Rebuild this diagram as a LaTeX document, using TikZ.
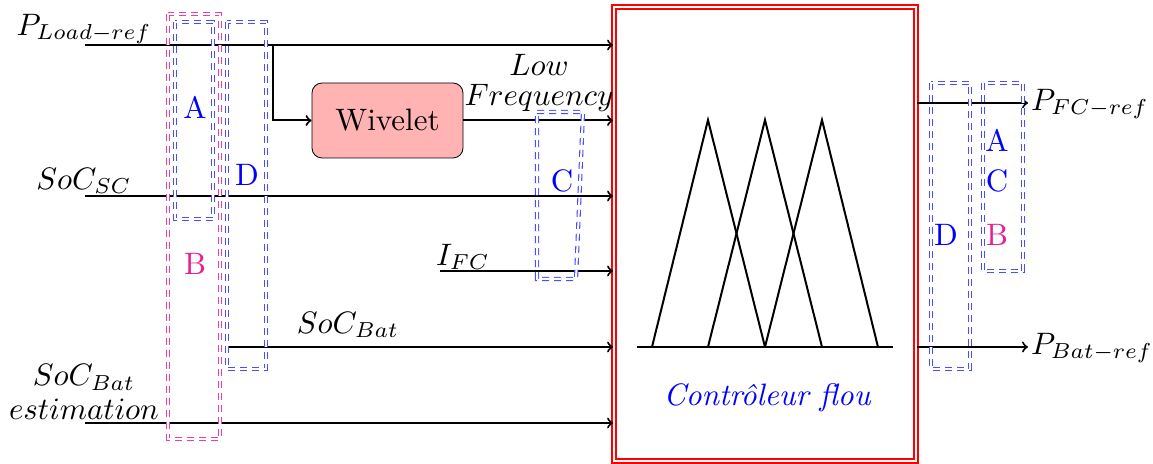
\documentclass[tikz,border=0pt]{standalone}
\definecolor{pinkc}{RGB}{232,30,145}
\definecolor{wivfill}{RGB}{255,179,179}
\begin{document}
\begin{tikzpicture}[x=0.5pt,y=-0.5pt,
  font=\fontsize{10}{12}\selectfont,
  txt/.style={scale=1.55},
  sig/.style={line width=1pt,->},
  wire/.style={line width=1pt},
  dbox/.style={draw=blue!70, double, dash pattern=on 3.5pt off 2.5pt, line width=0.55pt, double distance=1pt},
  pbox/.style={dbox, draw=pinkc!85},
  blab/.style={txt, text=blue},
  plab/.style={txt, text=pinkc},
  fz/.style={line width=1pt}]
\useasboundingbox (0,0) rectangle (1153,464);
% controller
\node[draw=red, double, line width=0.9pt, double distance=0.8pt, inner sep=0pt,
  minimum width=151pt, minimum height=227pt] (ctrl) at (765,234) {};
\node[txt, text=blue, font=\fontsize{10}{12}\selectfont\itshape] (ctrlt) at (767,398) {Contr\^oleur flou};
% fuzzy sets
\draw[fz] (637,347) -- (893,347);
\draw[fz] (652,347) -- (708,120) -- (765,347);
\draw[fz] (708,347) -- (765,120) -- (822,347);
\draw[fz] (765,347) -- (822,120) -- (878,347);
% wivelet
\node[draw, fill=wivfill, rounded corners=5pt, minimum width=75.5pt, minimum height=37.5pt, inner sep=0pt] (wiv) at (387.5,120.5) {\scalebox{1.55}{Wivelet}};
% inputs
\coordinate (sPL) at (85,45);
\coordinate (br) at (273,45);
\coordinate (sSC) at (85,196);
\coordinate (sIFC) at (440,271);
\coordinate (sBat) at (228,347);
\coordinate (sEst) at (85,423);
\draw[sig] (sPL) -- (sPL -| ctrl.west);
\draw[sig] (br) |- (wiv.west);
\draw[sig] (wiv.east) -- (wiv.east -| ctrl.west);
\draw[sig] (sSC) -- (sSC -| ctrl.west);
\draw[sig] (sIFC) -- (sIFC -| ctrl.west);
\draw[sig] (sBat) -- (sBat -| ctrl.west);
\draw[sig] (sEst) -- (sEst -| ctrl.west);
% outputs
\coordinate (oFC) at (1028,103);
\coordinate (oBat) at (1028,347);
\draw[sig] (ctrl.east |- oFC) -- (oFC);
\draw[sig] (ctrl.east |- oBat) -- (oBat);
% labels
\node[txt] (lPL) at (84,29) {$P_{Load-ref}$};
\node[txt] (lSC) at (84,181) {$SoC_{SC}$};
\node[txt, align=center, inner sep=0pt] (lEst) at (84,392) {$SoC_{Bat}$\\[-1pt]$estimation$};
\node[txt] (lIFC) at (463,257) {$I_{FC}$};
\node[txt] (lBat) at (348,325) {$SoC_{Bat}$};
\node[txt, inner sep=0pt, anchor=base] (lLow) at (539,76) {$Low$};
\node[txt, inner sep=0pt, anchor=base] (lFreq) at (539,106) {$Frequency$};
\node[txt] (lFC) at (1090,104) {$P_{FC-ref}$};
\node[txt] (lBr) at (1092,348) {$P_{Bat-ref}$};
% dashed groups
\draw[pbox] (168,14) rectangle (220,439);
\draw[dbox] (175,22) rectangle (213,219);
\draw[dbox] (227,22) rectangle (266,369);
\draw[dbox] (537,112) -- (583,112) -- (576,279) -- (537,279) -- cycle;
\draw[dbox] (931,83) rectangle (970,369);
\draw[dbox] (983,83) rectangle (1023,271);
\node[blab] (gA1) at (195,107) {A};
\node[plab] (gB1) at (195,264) {B};
\node[blab] (gD1) at (247,175) {D};
\node[blab] (gC1) at (562,181) {C};
\node[blab] (gD2) at (946,235) {D};
\node[blab] (gA2) at (997,140) {A};
\node[blab] (gC2) at (997,181) {C};
\node[plab] (gB2) at (997,235) {B};
\end{tikzpicture}
\end{document}
